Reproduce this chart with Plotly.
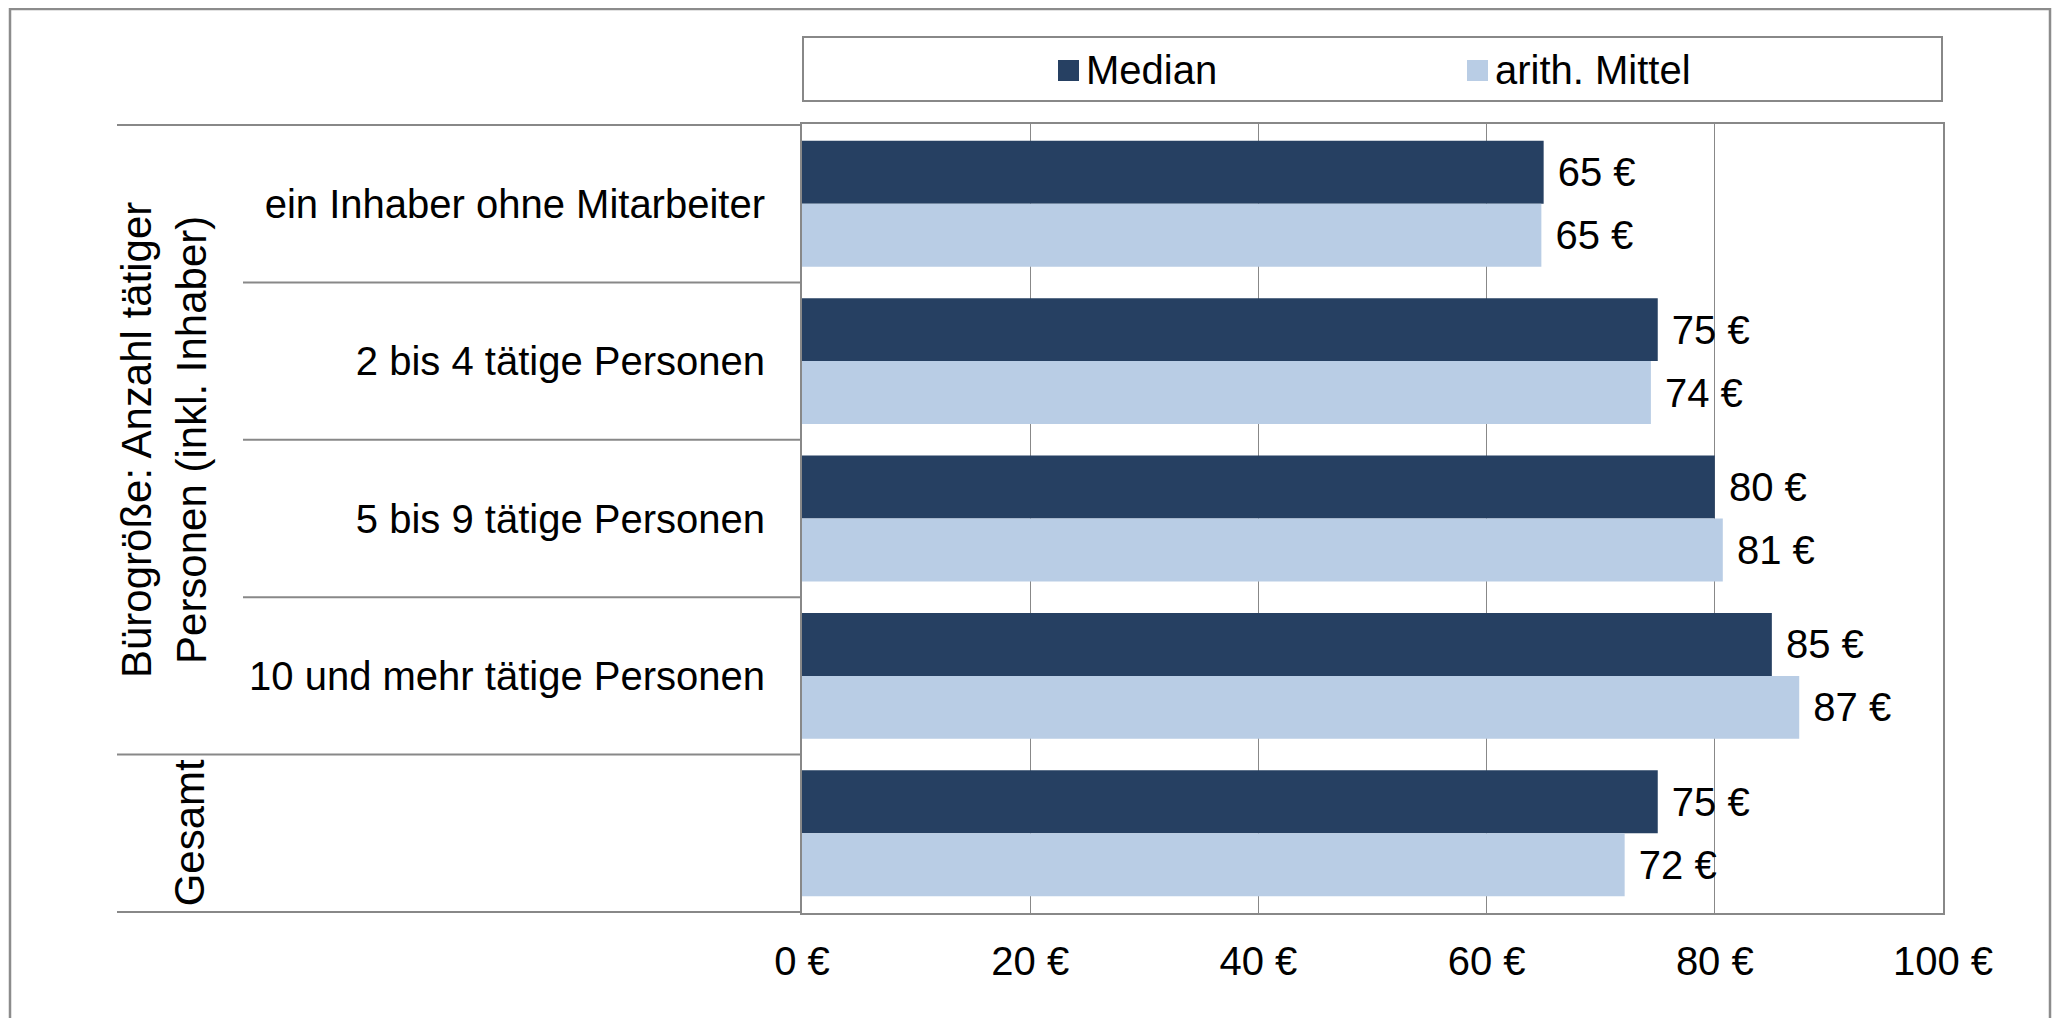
import plotly.graph_objects as go

categories = ["ein Inhaber ohne Mitarbeiter", "2 bis 4 tätige Personen",
              "5 bis 9 tätige Personen", "10 und mehr tätige Personen", "Gesamt"]
tick_labels = ["ein Inhaber ohne Mitarbeiter", "2 bis 4 tätige Personen",
               "5 bis 9 tätige Personen", "10 und mehr tätige Personen", ""]
median = [65, 75, 80, 85, 75]
mittel = [64.8, 74.4, 80.7, 87.4, 72.1]
series_names = ["Median", "arith. Mittel"]
x_ticks = [0, 20, 40, 60, 80, 100]
x_ticktext = ["0 €", "20 €", "40 €", "60 €", "80 €", "100 €"]
group_title = "Bürogröße: Anzahl tätiger<br>Personen (inkl. Inhaber)"
group_total = "Gesamt"

DARK = "#264062"
LIGHT = "#B9CDE5"
GRID = "#888888"
FONT = "Liberation Sans, Arial, sans-serif"
FS = 40

OFF = 8  # default page body margin
W, H = 2060 - 2 * OFF, 1026 - 2 * OFF
# plot area in page pixels: x 802..1943, y 124..913
L, T = 802 - OFF, 124 - OFF
R = W - (1943 - OFF)
B = H - (913 - OFF)
PW = W - L - R
PH = H - T - B


def px_x(p):
    return (p - OFF - L) / PW


def px_y(p):
    return 1 - (p - OFF - T) / PH


fig = go.Figure()
fig.add_trace(go.Bar(
    y=categories, x=median, orientation="h", name=series_names[0],
    marker=dict(color=DARK, line=dict(width=0)),
    text=median, texttemplate="\u00a0%{x:.0f} €", textposition="outside",
    textfont=dict(size=FS, color="black", family=FONT), cliponaxis=False,
))
fig.add_trace(go.Bar(
    y=categories, x=mittel, orientation="h", name=series_names[1],
    marker=dict(color=LIGHT, line=dict(width=0)),
    text=mittel, texttemplate="\u00a0%{x:.0f} €", textposition="outside",
    textfont=dict(size=FS, color="black", family=FONT), cliponaxis=False,
))

shapes = []
# outer chart border
shapes.append(dict(type="rect", xref="paper", yref="paper",
                   x0=px_x(10), x1=px_x(2050), y0=px_y(1060), y1=px_y(9),
                   line=dict(color="#8c8c8c", width=2.5), layer="below"))
# category separators
n = len(categories)
for i in range(n + 1):
    yv = i - 0.5
    outer = i in (0, 4, 5)
    shapes.append(dict(type="line", xref="paper", yref="y",
                       x0=px_x(117 if outer else 243), x1=0, y0=yv, y1=yv,
                       line=dict(color=GRID, width=2)))
# legend box
shapes.append(dict(type="rect", xref="paper", yref="paper",
                   x0=px_x(803), x1=px_x(1942), y0=px_y(101), y1=px_y(37),
                   line=dict(color=GRID, width=2)))
# legend swatches
for sx, col in [(1058, DARK), (1467, LIGHT)]:
    shapes.append(dict(type="rect", xref="paper", yref="paper",
                       x0=px_x(sx), x1=px_x(sx + 21), y0=px_y(81), y1=px_y(60),
                       line=dict(width=0), fillcolor=col))

annotations = [
    dict(text=series_names[0], xref="paper", yref="paper", x=px_x(1084), y=px_y(70),
         xanchor="left", yanchor="middle", showarrow=False,
         font=dict(size=FS, color="black", family=FONT)),
    dict(text=series_names[1], xref="paper", yref="paper", x=px_x(1493), y=px_y(70),
         xanchor="left", yanchor="middle", showarrow=False,
         font=dict(size=FS, color="black", family=FONT)),
    dict(text=group_title, xref="paper", yref="paper", x=px_x(164), y=px_y(440),
         xanchor="center", yanchor="middle", textangle=-90, showarrow=False,
         font=dict(size=42, color="black", family=FONT)),
    dict(text=group_total, xref="paper", yref="y", x=px_x(189), y=categories[4],
         xanchor="center", yanchor="middle", textangle=-90, showarrow=False,
         font=dict(size=42, color="black", family=FONT)),
]

fig.update_layout(
    width=W, height=H,
    margin=dict(l=L, r=R, t=T, b=B, pad=0),
    paper_bgcolor="white", plot_bgcolor="white",
    barmode="group", bargap=0.2, bargroupgap=0,
    showlegend=False,
    font=dict(family=FONT, size=FS, color="black"),
    shapes=shapes, annotations=annotations,
    uniformtext=dict(minsize=FS, mode="show"),
)
fig.update_xaxes(
    range=[0, 100], tickvals=x_ticks, ticktext=x_ticktext,
    showgrid=True, gridcolor=GRID, gridwidth=1.3,
    showline=True, linecolor=GRID, linewidth=2, mirror=True,
    ticks="", ticklabelstandoff=12, zeroline=False,
    tickfont=dict(size=FS, family=FONT, color="black"),
)
fig.update_yaxes(
    categoryorder="array", categoryarray=categories,
    tickvals=categories, ticktext=tick_labels,
    autorange="reversed",
    showline=True, linecolor=GRID, linewidth=2, mirror=True,
    showgrid=False, ticks="", ticklabelstandoff=27,
    tickfont=dict(size=FS, family=FONT, color="black"),
)

fig.write_html("out.html")
